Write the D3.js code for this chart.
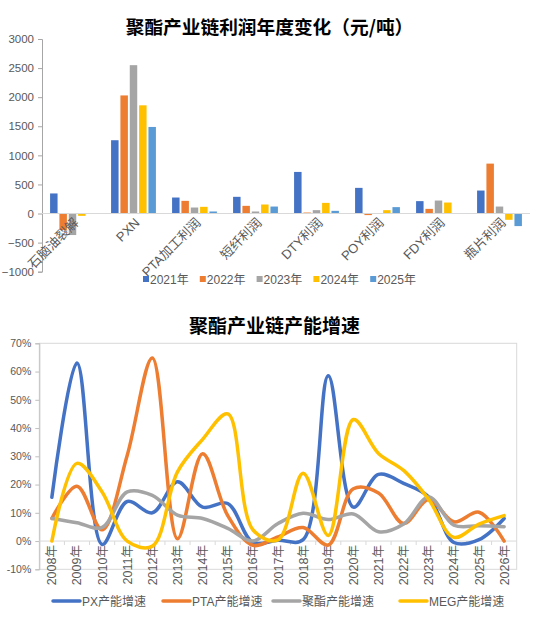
<!DOCTYPE html>
<html>
<head>
<meta charset="utf-8">
<script src="https://cdn.jsdelivr.net/npm/d3@7"></script>
<style>
	body { margin: 0; background: #fff; }
	text { font-family: "Liberation Sans", "Noto Sans CJK SC", sans-serif; }
	.title { font-family: "Noto Sans CJK SC", sans-serif; font-weight: 700; fill: #000; }
</style>
</head>
<body>
<div class="charts"></div>
<script>

// 利润年度变化
var profitCats = ["石脑油裂解", "PXN", "PTA加工利润", "短纤利润", "DTY利润", "POY利润", "FDY利润", "瓶片利润"];
var profitYears = ["2021年", "2022年", "2023年", "2024年", "2025年"];
var p2021 = [345, 1260, 275, 287, 715, 441, 213, 395];
var p2022 = [-285, 2030, 218, 132, 17, -27, 80, 858];
var p2023 = [-370, 2550, 103, 35, 58, 0, 223, 120];
var p2024 = [-40, 1860, 115, 155, 183, 58, 189, -108];
var p2025 = [0, 1488, 35, 120, 46, 110, 0, -216];
var profitTicks = [-1000, -500, 0, 500, 1000, 1500, 2000, 2500, 3000];

// 产能增速 (%)
var capYears = ["2008年", "2009年", "2010年", "2011年", "2012年", "2013年", "2014年", "2015年", "2016年", "2017年",
	"2018年", "2019年", "2020年", "2021年", "2022年", "2023年", "2024年", "2025年", "2026年"];
var pxGrowth = [15.5, 63, -1.2, 14, 10, 21, 12, 13.3, -0.5, 0.3, 0.5, 58.5, 12, 23.6, 20.4, 15.6, -0.5, 0.5, 8];
var ptaGrowth = [8, 19.4, 4, 30.4, 64.8, 0.8, 30.9, 9, -1.5, 1.5, 4.8, -1.4, 18.5, 17, 6.2, 14.7, 6.8, 10.2, 0];
var polyGrowth = [8, 6.5, 4.8, 17.4, 16.2, 9.2, 8, 4.5, 0, 6.2, 9.8, 7.6, 9.6, 3.3, 6, 15.6, 5.6, 5.4, 5.1];
var megGrowth = [0, 27.5, 17.4, 0, -1.8, 24.5, 36, 45, 4, 0.4, 24, 2, 43, 31, 25, 14.7, 1.3, 6, 9];
var growthNames = ["PX产能增速", "PTA产能增速", "聚酯产能增速", "MEG产能增速"];
var growthTicks = [-10, 0, 10, 20, 30, 40, 50, 60, 70];

var barColors = ["#4472C4", "#ED7D31", "#A5A5A5", "#FFC000", "#5B9BD5"];
var lineColors = ["#4472C4", "#ED7D31", "#A5A5A5", "#FFC000"];

var w = 550;
var h = 619;

var svg = d3.select(".charts")
	.append("svg")
	.attr("width", w)
	.attr("height", h);

/********************************************************************
* Top chart: grouped bars
*********************************************************************/
var profitSeries = [p2021, p2022, p2023, p2024, p2025];

svg.append("text")
	.attr("class", "title")
	.attr("x", 269.5)
	.attr("y", 34)
	.attr("text-anchor", "middle")
	.style("font-size", "18.7px")
	.text("聚酯产业链利润年度变化（元/吨）");

var x0 = d3.scaleBand()
	.domain(profitCats)
	.range([42, 530]);

var groupW = x0.bandwidth() * 0.735;
var x1 = d3.scaleBand()
	.domain(profitYears)
	.range([0, groupW])
	.paddingInner(0.2);

var y = d3.scaleLinear()
	.domain([-1000, 3000])
	.range([271.7, 39]);

var yAxis = svg.append("g")
	.attr("transform", "translate(42,0)")
	.call(d3.axisLeft(y).tickValues(profitTicks).tickSize(4).tickPadding(4).tickFormat(d3.format("d")));
yAxis.select(".domain").attr("stroke", "#a6a6a6");
yAxis.selectAll(".tick line").attr("stroke", "#a6a6a6");
yAxis.selectAll(".tick text")
	.attr("fill", "#595959")
	.style("font-size", "11.5px");

var groups = svg.selectAll("g.cat")
	.data(profitCats)
	.enter()
	.append("g")
	.attr("class", "cat")
	.attr("transform", function(d){
		return "translate(" + (x0(d) + (x0.bandwidth() - groupW) / 2) + ",0)";
	});

groups.selectAll("rect")
	.data(function(d, i){
		return profitSeries.map(function(s, k){ return {year: profitYears[k], v: s[i], k: k}; });
	})
	.enter()
	.append("rect")
	.attr("x", function(d){ return x1(d.year); })
	.attr("y", function(d){ return y(Math.max(0, d.v)); })
	.attr("width", x1.bandwidth())
	.attr("height", function(d){ return Math.abs(y(d.v) - y(0)); })
	.attr("fill", function(d){ return barColors[d.k]; });

// zero line
svg.append("line")
	.attr("x1", 42)
	.attr("x2", 530)
	.attr("y1", y(0))
	.attr("y2", y(0))
	.attr("stroke", "#d9d9d9");

// category labels, rotated
svg.selectAll("text.cat")
	.data(profitCats)
	.enter()
	.append("text")
	.attr("class", "cat")
	.attr("text-anchor", "end")
	.attr("fill", "#595959")
	.style("font-size", "13px")
	.attr("transform", function(d){
		return "translate(" + (x0(d) + x0.bandwidth() / 2 + 7) + "," + (y(0) + 10) + ") rotate(-45)";
	})
	.text(function(d){ return d; });

var legTop = svg.selectAll("g.legtop")
	.data(profitYears)
	.enter()
	.append("g")
	.attr("class", "legtop")
	.attr("transform", function(d, i){ return "translate(" + (143 + i * 56.8) + ",279)"; });
legTop.append("rect")
	.attr("x", 0)
	.attr("y", -3)
	.attr("width", 6)
	.attr("height", 6)
	.attr("fill", function(d, i){ return barColors[i]; });
legTop.append("text")
	.attr("x", 7)
	.attr("y", 4.5)
	.attr("fill", "#595959")
	.style("font-size", "12px")
	.text(function(d){ return d; });

/********************************************************************
* Bottom chart: smoothed lines
*********************************************************************/
var growthSeries = [pxGrowth, ptaGrowth, polyGrowth, megGrowth];

svg.append("text")
	.attr("class", "title")
	.attr("x", 274.5)
	.attr("y", 333)
	.attr("text-anchor", "middle")
	.style("font-size", "19px")
	.text("聚酯产业链产能增速");

var xc = d3.scaleBand()
	.domain(capYears)
	.range([39.3, 516.7]);

var yc = d3.scaleLinear()
	.domain([-10, 70])
	.range([569.3, 343.3]);

// plot area border
svg.append("rect")
	.attr("x", 39.3)
	.attr("y", 343.3)
	.attr("width", 516.7 - 39.3)
	.attr("height", 569.3 - 343.3)
	.attr("fill", "none")
	.attr("stroke", "#d9d9d9");

var ycAxis = svg.append("g")
	.attr("transform", "translate(39.3,0)")
	.call(d3.axisLeft(yc).tickValues(growthTicks).tickSize(4).tickPadding(4).tickFormat(function(d){ return d + "%"; }));
ycAxis.select(".domain").attr("stroke", "#bfbfbf");
ycAxis.selectAll(".tick line").attr("stroke", "#bfbfbf");
ycAxis.selectAll(".tick text")
	.attr("fill", "#595959")
	.style("font-size", "10.5px");

// category axis at 0%
var xcAxis = svg.append("g")
	.attr("transform", "translate(0," + yc(0) + ")");
xcAxis.append("line")
	.attr("x1", 39.3)
	.attr("x2", 516.7)
	.attr("stroke", "#d9d9d9");
xcAxis.selectAll("line.tk")
	.data(capYears.slice(1))
	.enter()
	.append("line")
	.attr("class", "tk")
	.attr("x1", function(d){ return xc(d); })
	.attr("x2", function(d){ return xc(d); })
	.attr("y1", 0)
	.attr("y2", 4)
	.attr("stroke", "#d9d9d9");
xcAxis.selectAll("text")
	.data(capYears)
	.enter()
	.append("text")
	.attr("text-anchor", "end")
	.attr("fill", "#595959")
	.style("font-size", "12.5px")
	.attr("transform", function(d){
		return "translate(" + (xc(d) + xc.bandwidth() / 2 + 4.5) + ",4) rotate(-90)";
	})
	.text(function(d){ return d; });

// centripetal catmull-rom keeps the flat runs flat, like Excel's smoothing
var line = d3.line()
	.x(function(d, i){ return xc(capYears[i]) + xc.bandwidth() / 2; })
	.y(function(d){ return yc(d); })
	.curve(d3.curveCatmullRom.alpha(0.5));

svg.selectAll("path.growth")
	.data(growthSeries)
	.enter()
	.append("path")
	.attr("class", "growth")
	.attr("d", function(d){ return line(d); })
	.attr("fill", "none")
	.attr("stroke", function(d, i){ return lineColors[i]; })
	.attr("stroke-width", 3.5)
	.attr("stroke-linecap", "round");

var legX = [53, 163, 273, 400];
var legBot = svg.selectAll("g.legbot")
	.data(growthNames)
	.enter()
	.append("g")
	.attr("class", "legbot")
	.attr("transform", function(d, i){ return "translate(" + legX[i] + ",601)"; });
legBot.append("line")
	.attr("x1", 0)
	.attr("x2", 27)
	.attr("stroke", function(d, i){ return lineColors[i]; })
	.attr("stroke-width", 3.5)
	.attr("stroke-linecap", "round");
legBot.append("text")
	.attr("x", 29)
	.attr("y", 4.5)
	.attr("fill", "#595959")
	.style("font-size", "12px")
	.text(function(d){ return d; });

</script>
</body>
</html>
